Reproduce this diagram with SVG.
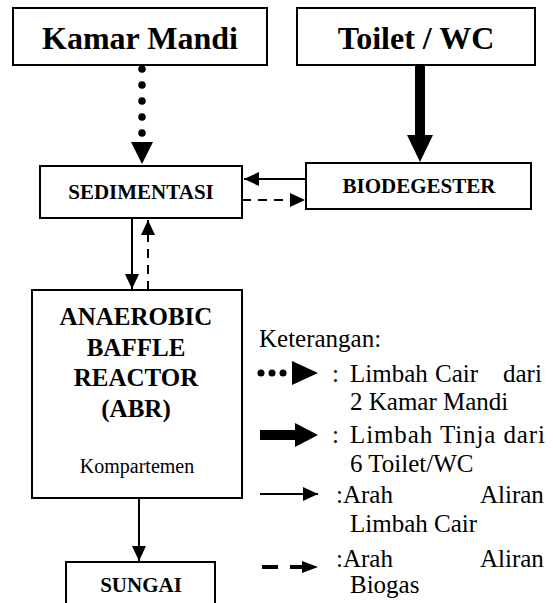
<svg xmlns="http://www.w3.org/2000/svg" width="553" height="603" viewBox="0 0 553 603">
<style>
.box{fill:#fff;stroke:#000;stroke-width:2}
.b{font-weight:bold;text-anchor:middle}
.ln{stroke:#000;stroke-width:2;fill:none}
.ds{stroke:#000;stroke-width:2;fill:none;stroke-dasharray:9 7}
</style>
<defs>
<marker id="ah" markerUnits="userSpaceOnUse" markerWidth="16" markerHeight="14" refX="15" refY="7" orient="auto"><path d="M0,0 L15,7 L0,14 z" fill="#000"/></marker>
</defs>
<rect width="553" height="603" fill="#fff"/>
<g font-family="Liberation Serif" fill="#000">
<g id="kamar-mandi"><rect class="box" x="13" y="8" width="254" height="57"/><text class="b" x="140" y="49" font-size="32" font-family="Liberation Serif">Kamar Mandi</text></g>
<g id="toilet-wc"><rect class="box" x="297" y="8" width="238" height="57"/><text class="b" x="416" y="49" font-size="32">Toilet / WC</text></g>
<g id="sedimentasi"><rect class="box" x="40" y="166" width="202" height="52"/><text class="b" x="141" y="199" font-size="21">SEDIMENTASI</text></g>
<g id="biodegester"><rect class="box" x="306" y="163" width="225" height="46"/><text class="b" x="419" y="193" font-size="21">BIODEGESTER</text></g>
<g id="abr"><rect class="box" x="32" y="290" width="210" height="208"/>
<text class="b" font-size="25"><tspan x="136" y="325">ANAEROBIC</tspan><tspan x="136" y="356">BAFFLE</tspan><tspan x="136" y="386">REACTOR</tspan><tspan x="136" y="417">(ABR)</tspan></text>
<text x="137" y="473" font-size="20" text-anchor="middle">Kompartemen</text></g>
<g id="sungai"><rect class="box" x="66" y="562" width="149" height="50"/><text class="b" x="141" y="592" font-size="21">SUNGAI</text></g>
<g id="connectors">
<path d="M142,69 V134" stroke="#000" stroke-width="7.5" stroke-linecap="round" stroke-dasharray="0 16"/>
<polygon points="131,142 153,142 142,164" fill="#000"/>
<path d="M420,65 V136" stroke="#000" stroke-width="10" fill="none"/>
<polygon points="407,135 433,135 420,162" fill="#000"/>
<path class="ln" d="M306,179 H244" marker-end="url(#ah)"/>
<path class="ds" d="M242,200 H305" marker-end="url(#ah)"/>
<path class="ln" d="M132,219 V289" marker-end="url(#ah)"/>
<path class="ds" d="M148,290 V220" marker-end="url(#ah)"/>
<path class="ln" d="M139,498 V561" marker-end="url(#ah)"/>
</g>
<g id="legend">
<text x="259" y="347" font-size="25">Keterangan:</text>
<circle cx="261" cy="373" r="3.5"/><circle cx="272" cy="373" r="3.5"/><circle cx="283" cy="373" r="3.5"/>
<polygon points="292,361 318,373 292,385"/>
<text font-size="25" y="382"><tspan x="332">:</tspan><tspan x="350">Limbah</tspan><tspan x="435">Cair</tspan><tspan x="503">dari</tspan></text>
<text font-size="25" x="350" y="410">2 Kamar Mandi</text>
<path d="M260,435 H296" stroke="#000" stroke-width="10"/>
<polygon points="295,423 318,435 295,447"/>
<text font-size="25" y="443"><tspan x="332">:</tspan><tspan x="350" textLength="195" lengthAdjust="spacing">Limbah Tinja dari</tspan></text>
<text font-size="25" x="350" y="472">6 Toilet/WC</text>
<path class="ln" d="M260,494 H318" stroke-width="3" marker-end="url(#ah)"/>
<text font-size="25" y="503"><tspan x="336">:Arah</tspan><tspan x="480">Aliran</tspan></text>
<text font-size="25" x="350" y="532">Limbah Cair</text>
<path d="M262,567 H278 M290,567 H305" stroke="#000" stroke-width="4"/>
<path d="M302,561 L318,567 L302,573 z"/>
<text font-size="25" y="567"><tspan x="336">:Arah</tspan><tspan x="480">Aliran</tspan></text>
<text font-size="25" x="350" y="593">Biogas</text>
</g>
</g>
</svg>
